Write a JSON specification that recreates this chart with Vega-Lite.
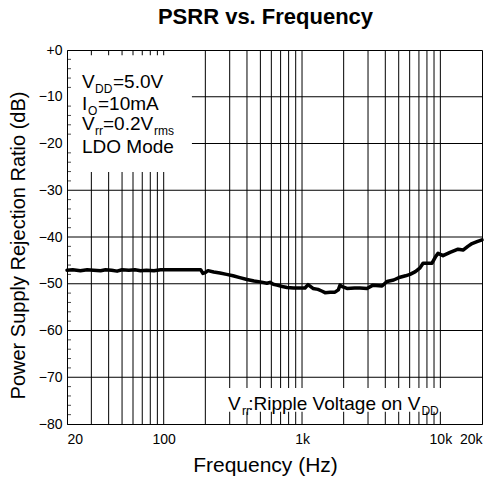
{
  "$schema": "https://vega.github.io/schema/vega-lite/v6.json",
  "width": 415,
  "height": 374,
  "autosize": {"type": "none"},
  "padding": {"left": 67, "top": 50, "right": 8, "bottom": 58},
  "background": "white",
  "config": {
    "font": "Liberation Sans",
    "view": {"stroke": "black", "strokeWidth": 1},
    "axis": {"labelColor": "black", "titleColor": "black", "domainColor": "black", "tickColor": "black", "labelFont": "Liberation Sans", "titleFont": "Liberation Sans", "titleFontWeight": "normal"}
  },
  "title": {"text": "PSRR vs. Frequency", "fontSize": 22, "fontWeight": "bold", "color": "black", "frame": "group", "anchor": "middle", "dx": -9, "baseline": "alphabetic", "offset": -3},
  "datasets": {
    "curve": [
      {"f": 20, "db": -47.1}, {"f": 22, "db": -47.0}, {"f": 25, "db": -47.2}, {"f": 28, "db": -47.0},
      {"f": 31, "db": -47.1}, {"f": 35, "db": -47.2}, {"f": 38, "db": -47.0}, {"f": 42, "db": -47.1},
      {"f": 46, "db": -47.3}, {"f": 50, "db": -47.0}, {"f": 56, "db": -47.1}, {"f": 62, "db": -47.0},
      {"f": 68, "db": -47.2}, {"f": 75, "db": -47.1}, {"f": 85, "db": -47.2}, {"f": 95, "db": -47.0},
      {"f": 110, "db": -47.0}, {"f": 130, "db": -47.0}, {"f": 160, "db": -47.0}, {"f": 185, "db": -47.0},
      {"f": 192, "db": -47.8}, {"f": 200, "db": -47.6}, {"f": 209, "db": -47.2}, {"f": 230, "db": -47.5},
      {"f": 255, "db": -47.7}, {"f": 285, "db": -48.0}, {"f": 317, "db": -48.3}, {"f": 355, "db": -48.7},
      {"f": 400, "db": -49.1}, {"f": 450, "db": -49.4}, {"f": 497, "db": -49.6}, {"f": 558, "db": -49.9},
      {"f": 587, "db": -49.7}, {"f": 620, "db": -50.1}, {"f": 659, "db": -50.3}, {"f": 720, "db": -50.6},
      {"f": 778, "db": -50.8}, {"f": 870, "db": -50.9}, {"f": 966, "db": -50.9}, {"f": 1051, "db": -50.9},
      {"f": 1105, "db": -50.2}, {"f": 1200, "db": -51.0}, {"f": 1305, "db": -51.2}, {"f": 1400, "db": -51.6},
      {"f": 1466, "db": -51.9}, {"f": 1600, "db": -51.8}, {"f": 1730, "db": -51.8}, {"f": 1830, "db": -51.3},
      {"f": 1882, "db": -50.3}, {"f": 1950, "db": -50.6}, {"f": 2114, "db": -51.0}, {"f": 2400, "db": -50.9},
      {"f": 2625, "db": -50.9}, {"f": 2950, "db": -51.0}, {"f": 3260, "db": -50.3}, {"f": 3786, "db": -50.5},
      {"f": 4115, "db": -49.5}, {"f": 4600, "db": -49.2}, {"f": 5110, "db": -48.6}, {"f": 5600, "db": -48.3},
      {"f": 6036, "db": -48.0}, {"f": 6600, "db": -47.4}, {"f": 7130, "db": -46.6}, {"f": 7496, "db": -45.6},
      {"f": 8200, "db": -45.6}, {"f": 8706, "db": -45.6}, {"f": 9200, "db": -44.3}, {"f": 9620, "db": -43.5},
      {"f": 10450, "db": -44.0}, {"f": 11750, "db": -43.3}, {"f": 13420, "db": -42.6}, {"f": 14590, "db": -42.8},
      {"f": 15800, "db": -42.0}, {"f": 16940, "db": -41.4}, {"f": 18410, "db": -41.0}, {"f": 20000, "db": -40.6}
    ],
    "vgrid": [
      {"f": 30}, {"f": 40}, {"f": 50}, {"f": 60}, {"f": 70}, {"f": 80}, {"f": 90}, {"f": 100},
      {"f": 200}, {"f": 300}, {"f": 400}, {"f": 500}, {"f": 600}, {"f": 700}, {"f": 800}, {"f": 900}, {"f": 1000},
      {"f": 2000}, {"f": 3000}, {"f": 4000}, {"f": 5000}, {"f": 6000}, {"f": 7000}, {"f": 8000}, {"f": 9000}, {"f": 10000}
    ],
    "hgrid": [
      {"db": -10}, {"db": -20}, {"db": -30}, {"db": -40}, {"db": -50}, {"db": -60}, {"db": -70}
    ],
    "yticks": [
      {"db": -78}, {"db": -76}, {"db": -74}, {"db": -72}, {"db": -68}, {"db": -66}, {"db": -64}, {"db": -62},
      {"db": -58}, {"db": -56}, {"db": -54}, {"db": -52}, {"db": -48}, {"db": -46}, {"db": -44}, {"db": -42},
      {"db": -38}, {"db": -36}, {"db": -34}, {"db": -32}, {"db": -28}, {"db": -26}, {"db": -24}, {"db": -22},
      {"db": -18}, {"db": -16}, {"db": -14}, {"db": -12}, {"db": -8}, {"db": -6}, {"db": -4}, {"db": -2}
    ],
    "boxes": [
      {"f": 20, "f2": 160, "db": -1.1, "db2": -26.1},
      {"f": 260, "f2": 10300, "db": -72.3, "db2": -77.4}
    ],
    "mainText": [
      {"f": 25.68, "db": -8.13, "t": "V"},
      {"f": 43.0, "db": -8.13, "t": "=5.0V"},
      {"f": 25.68, "db": -12.83, "t": "I"},
      {"f": 33.5, "db": -12.83, "t": "=10mA"},
      {"f": 25.68, "db": -17.1, "t": "V"},
      {"f": 36.4, "db": -17.1, "t": "=0.2V"},
      {"f": 25.68, "db": -21.96, "t": "LDO Mode"},
      {"f": 291.6, "db": -77.0, "t": "V"},
      {"f": 408, "db": -77.0, "t": ":Ripple Voltage on V"}
    ],
    "subText": [
      {"f": 31.88, "db": -9.2, "t": "DD"},
      {"f": 28.38, "db": -13.9, "t": "O"},
      {"f": 31.88, "db": -18.2, "t": "rr"},
      {"f": 85.1, "db": -18.2, "t": "rms"},
      {"f": 368, "db": -78.07, "t": "rr"},
      {"f": 7300, "db": -78.07, "t": "DD"}
    ]
  },
  "layer": [
    {
      "data": {"name": "vgrid"},
      "mark": {"type": "rule", "color": "black", "strokeWidth": 1},
      "encoding": {
        "x": {"field": "f", "type": "quantitative", "scale": {"type": "log", "domain": [20, 20000], "nice": false}, "title": "Frequency (Hz)",
          "axis": {"values": [20, 100, 1000, 10000, 20000], "labelExpr": "datum.value >= 1000 ? format(datum.value/1000, 'd') + 'k' : format(datum.value, 'd')", "ticks": false, "grid": false, "labelFlush": true, "labelOverlap": false, "labelFontSize": 14, "labelPadding": 8, "titleFontSize": 21, "titlePadding": 8, "titleX": 198, "zindex": 1}}
      }
    },
    {
      "data": {"name": "hgrid"},
      "mark": {"type": "rule", "color": "black", "strokeWidth": 1},
      "encoding": {
        "y": {"field": "db", "type": "quantitative", "scale": {"domain": [-80, 0], "nice": false}, "title": "Power Supply Rejection Ratio (dB)",
          "axis": {"values": [-80, -70, -60, -50, -40, -30, -20, -10, 0],
            "labelExpr": "datum.value == 0 ? '+0' : datum.label", "labelOverlap": false, "tickSize": 0, "labelPadding": 5, "labelFontSize": 14, "grid": false, "titleFontSize": 20, "titlePadding": 10, "titleY": 195, "zindex": 1}}
      }
    },
    {
      "data": {"name": "boxes"},
      "mark": {"type": "rect", "color": "white", "opacity": 1},
      "encoding": {
        "x": {"field": "f", "type": "quantitative"},
        "x2": {"field": "f2"},
        "y": {"field": "db", "type": "quantitative"},
        "y2": {"field": "db2"}
      }
    },
    {
      "data": {"name": "yticks"},
      "mark": {"type": "tick", "orient": "horizontal", "color": "black", "size": 8, "thickness": 1, "clip": true},
      "encoding": {
        "x": {"datum": 20, "type": "quantitative"},
        "y": {"field": "db", "type": "quantitative"}
      }
    },
    {
      "data": {"name": "curve"},
      "mark": {"type": "line", "color": "black", "strokeWidth": 3.5, "strokeJoin": "round", "strokeCap": "round"},
      "encoding": {
        "x": {"field": "f", "type": "quantitative"},
        "y": {"field": "db", "type": "quantitative"}
      }
    },
    {
      "data": {"name": "mainText"},
      "mark": {"type": "text", "fontSize": 19, "align": "left", "baseline": "alphabetic", "color": "black"},
      "encoding": {
        "x": {"field": "f", "type": "quantitative"},
        "y": {"field": "db", "type": "quantitative"},
        "text": {"field": "t"}
      }
    },
    {
      "data": {"name": "subText"},
      "mark": {"type": "text", "fontSize": 12, "align": "left", "baseline": "alphabetic", "color": "black"},
      "encoding": {
        "x": {"field": "f", "type": "quantitative"},
        "y": {"field": "db", "type": "quantitative"},
        "text": {"field": "t"}
      }
    }
  ]
}
